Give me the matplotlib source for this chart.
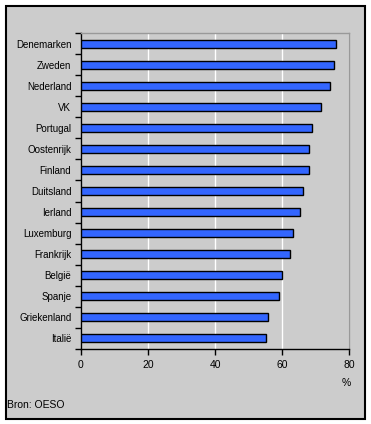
import matplotlib
matplotlib.use("Agg")
import matplotlib.pyplot as plt
from matplotlib.patches import Rectangle
import numpy as np

countries = ["Denemarken", "Zweden", "Nederland", "VK", "Portugal", "Oostenrijk",
             "Finland", "Duitsland", "Ierland", "Luxemburg", "Frankrijk", "België",
             "Spanje", "Griekenland", "Italië"]
values = [76.0, 75.4, 74.2, 71.5, 68.9, 68.0, 68.0, 66.2, 65.3, 63.2, 62.3, 59.9,
          59.0, 55.7, 55.1]
xticks = [0, 20, 40, 60, 80]

plt.rcParams['font.family'] = ['Liberation Sans', 'DejaVu Sans']

W, H = 371, 424
fig = plt.figure(figsize=(W / 100, H / 100), dpi=100)
fig.patch.set_facecolor("white")
bg = "#CCCCCC"
fig.patches.append(Rectangle((5.5 / W, 1 - 418.5 / H), 359 / W, 413 / H,
                             transform=fig.transFigure, facecolor=bg,
                             edgecolor="black", linewidth=1.5, zorder=-10))

ax = fig.add_axes([81 / W, 1 - 349 / H, 268 / W, 316 / H])
ax.set_zorder(5)
ax.set_facecolor(bg)
n = len(countries)
y = np.arange(n)
ax.barh(y, values, height=0.38, color="#3366FF", edgecolor="black", linewidth=1.0, zorder=3)
ax.set_ylim(n - 0.5, -0.5)
ax.set_xlim(0, 80)
ax.set_yticks(y)
ax.set_yticklabels(countries, fontsize=7)
ax.set_yticks(np.arange(-0.5, n, 1), minor=True)
ax.tick_params(axis="y", which="major", length=0, pad=7)
ax.tick_params(axis="y", which="minor", length=4, width=1, color="black", direction="out")
ax.set_xticks(xticks)
ax.set_xticklabels([str(v) for v in xticks], fontsize=7.5)
ax.tick_params(axis="x", length=4, width=1, color="black", direction="out", pad=4)
ax.grid(axis="x", color="white", linewidth=1, zorder=1)
ax.set_axisbelow(True)
for s in ["left", "bottom"]:
    ax.spines[s].set_color("black")
    ax.spines[s].set_linewidth(1)
for s in ["top", "right"]:
    ax.spines[s].set_color("#999999")
    ax.spines[s].set_linewidth(1)

fig.text(346 / W, 1 - 383 / H, "%", fontsize=7.5, ha="center", va="center", zorder=6)
fig.text(7 / W, 1 - 405 / H, "Bron: OESO", fontsize=7.5, ha="left", va="center", zorder=6)

fig.savefig("out.png", dpi=100, facecolor=fig.get_facecolor())
